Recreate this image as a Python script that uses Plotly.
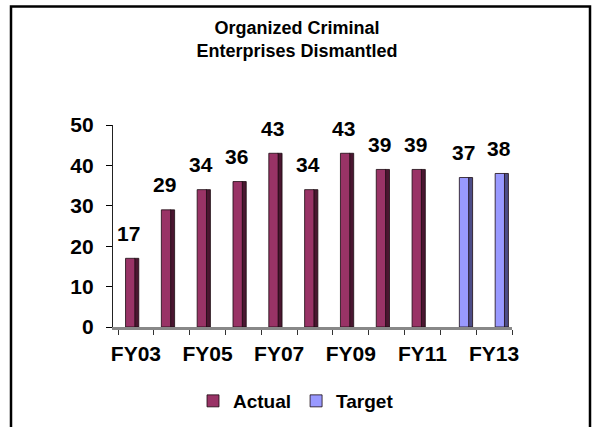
import plotly.graph_objects as go

categories = ["FY03", "FY04", "FY05", "FY06", "FY07", "FY08", "FY09", "FY10", "FY11", "FY12", "FY13"]
actual_years = ["FY03", "FY04", "FY05", "FY06", "FY07", "FY08", "FY09", "FY10", "FY11"]
actual_values = [17, 29, 34, 36, 43, 34, 43, 39, 39]
target_years = ["FY12", "FY13"]
target_values = [37, 38]
tick_labels = ["FY03", "", "FY05", "", "FY07", "", "FY09", "", "FY11", "", "FY13"]

FONT = "Arial, 'Liberation Sans', sans-serif"
W, H = 592, 427
L, R, T, B = 113, 80, 125, 100

fig = go.Figure()

def add_series(name, xs, ys, front, side, off, label_shift):
    # side face (3D look)
    fig.add_trace(go.Bar(x=xs, y=ys, width=0.12, offset=off + 0.25,
                         marker=dict(color=side, line=dict(color="#1a0a10", width=0.8)),
                         showlegend=False, hoverinfo="skip"))
    # front face
    fig.add_trace(go.Bar(x=xs, y=ys, name=name, width=0.26, offset=off,
                         marker=dict(color=front, line=dict(color="#1a0a10", width=0.8))))
    for xv, yv in zip(xs, ys):
        fig.add_annotation(x=xv, y=yv, text=str(yv), showarrow=False,
                           xshift=label_shift, yshift=25,
                           font=dict(family=FONT, size=21, color="#000", weight="bold"))

add_series("Actual", actual_years, actual_values, "#993366", "#4a1630", -0.29, -7)
add_series("Target", target_years, target_values, "#9999FF", "#4d4d88", 0.03, 5)

pw = W - L - R
ph = H - T - B
fig.add_shape(type="rect", xref="paper", yref="paper",
              x0=(11 - L) / pw, x1=(590 - L) / pw,
              y0=(H - B - 460) / ph, y1=(H - B - 6.5) / ph,
              line=dict(color="#000", width=2.5), fillcolor="rgba(0,0,0,0)", layer="below")

fig.update_layout(
    width=W, height=H,
    margin=dict(l=L, r=R, t=T, b=B, autoexpand=False),
    paper_bgcolor="white", plot_bgcolor="white",
    barmode="overlay",
    title=dict(text="Organized Criminal<br>Enterprises Dismantled",
               x=297 / W, xref="container", xanchor="center",
               y=1 - 34 / H, yref="container", yanchor="middle",
               font=dict(family=FONT, size=18, color="#000", weight="bold")),
    font=dict(family=FONT, color="#000"),
    legend=dict(orientation="h", x=(296 - L) / pw, xanchor="center",
                y=(H - B - 401) / ph, yanchor="middle",
                font=dict(family=FONT, size=19, color="#000", weight="bold"),
                traceorder="normal", bgcolor="rgba(0,0,0,0)"),
    xaxis=dict(type="category", categoryorder="array", categoryarray=categories,
               tickmode="array", tickvals=categories, ticktext=tick_labels,
               tickangle=0, automargin=False,
               tickson="boundaries", ticks="outside", ticklen=5, tickcolor="#333",
               ticklabelstandoff=6,
               showline=True, linecolor="#888", linewidth=3,
               tickfont=dict(family=FONT, size=21, color="#000", weight="bold"),
               range=[-0.64, len(categories) - 0.5], showgrid=False),
    yaxis=dict(range=[0, 50], dtick=10, ticks="outside", ticklen=6, tickcolor="#000",
               showline=True, linecolor="#222", linewidth=1.2, automargin=False,
               tickfont=dict(family=FONT, size=21, color="#000", weight="bold"),
               ticklabelstandoff=8,
               showgrid=False, zeroline=False),
)

fig.write_html("out.html", config={"displayModeBar": False},
               post_script="document.body.style.margin='0';document.body.style.overflow='hidden';")
